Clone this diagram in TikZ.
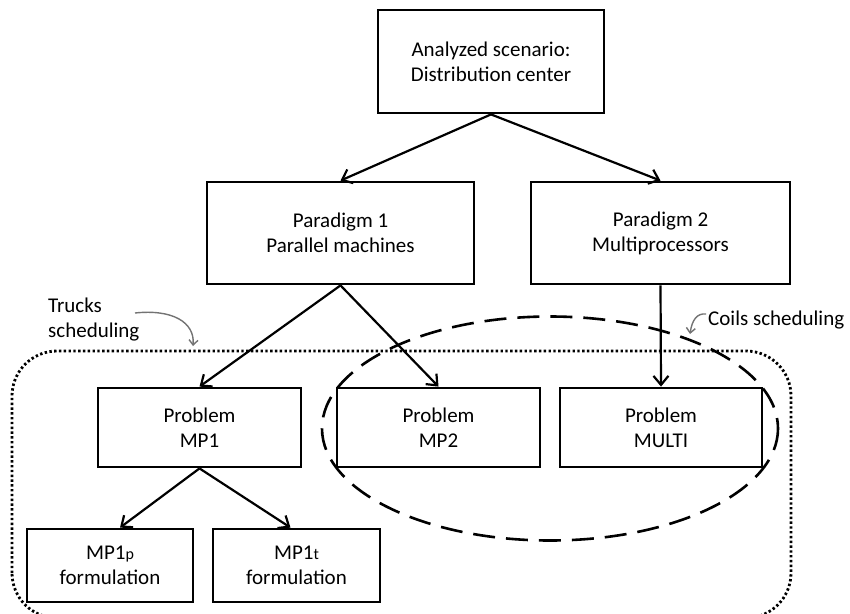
\documentclass[tikz,border=0pt]{standalone}
\usepackage{fontspec}
\setmainfont{Carlito}
\usetikzlibrary{arrows.meta}
\begin{document}
\begin{tikzpicture}[x=1pt,y=-1pt,
  every node/.style={font=\fontsize{21}{25}\selectfont},
  box/.style={draw, line width=2.8pt, align=center, inner sep=0pt},
  link/.style={line width=2.2pt, -{Straight Barb[length=9pt,width=15pt,line width=2.2pt]}},
  note/.style={draw=black!55, line width=1.4pt, -{Straight Barb[length=5pt,width=9pt,line width=1.4pt]}},
  group/.style={line width=2.8pt, dash pattern=on 2.4pt off 2.4pt},
  cluster/.style={line width=2.6pt, dash pattern=on 22pt off 11pt}]
\useasboundingbox (0,0) rectangle (850,613);

% groups of problems
\draw[group, rounded corners=45pt] (12,618) -- (12,351) -- (791,351) -- (791,618) -- cycle;
\draw[cluster] (550,428.5) ellipse [x radius=228, y radius=112];

% boxes
\node[box, minimum width=226pt, minimum height=103pt] (scen) at (491,61.5) {Analyzed scenario:\\Distribution center};
\node[box, minimum width=267pt, minimum height=102pt] (par1) at (340.5,233) {Paradigm 1\\Parallel machines};
\node[box, minimum width=259pt, minimum height=102pt] (par2) at (660.5,233) {Paradigm 2\\Multiprocessors};
\node[box, minimum width=203pt, minimum height=79pt, fill=white] (mp1) at (199.5,427.5) {Problem\\MP1};
\node[box, minimum width=203pt, minimum height=79pt, fill=white] (mp2) at (438.5,427.5) {Problem\\MP2};
\node[box, minimum width=202pt, minimum height=79pt, fill=white] (multi) at (661,427.5) {Problem\\MULTI};
\node[box, minimum width=166pt, minimum height=73pt, fill=white] (mp1p) at (110,565.5) {MP1{\fontsize{16}{16}\selectfont p}\\formulation};
\node[box, minimum width=167pt, minimum height=73pt, fill=white] (mp1t) at (296.5,565.5) {MP1{\fontsize{16}{16}\selectfont t}\\formulation};

% hierarchy
\draw[link] (scen.south) -- (par1.north);
\draw[link] (scen.south) -- (par2.north);
\draw[link] (par1.south) -- (mp1.north);
\draw[link] (par1.south) -- (mp2.north);
\draw[link] (par2.south) -- (multi.north);
\draw[link] (mp1.south) -- ([xshift=10pt]mp1p.north);
\draw[link] (mp1.south) -- ([xshift=-6pt]mp1t.north);

% annotations
\node[anchor=west, align=left, inner sep=0pt] (trucks) at (48,320) {Trucks\\scheduling};
\coordinate (trucksend) at (193,346);
\draw[note] (135,313) .. controls (172,309) and (195,322) .. (trucksend);
\node[anchor=west, inner sep=0pt] (coils) at (708,320) {Coils scheduling};
\coordinate (coilsend) at (690,334);
\draw[note] (706,314) .. controls (697,313) and (692,320) .. (coilsend);
\end{tikzpicture}
\end{document}
